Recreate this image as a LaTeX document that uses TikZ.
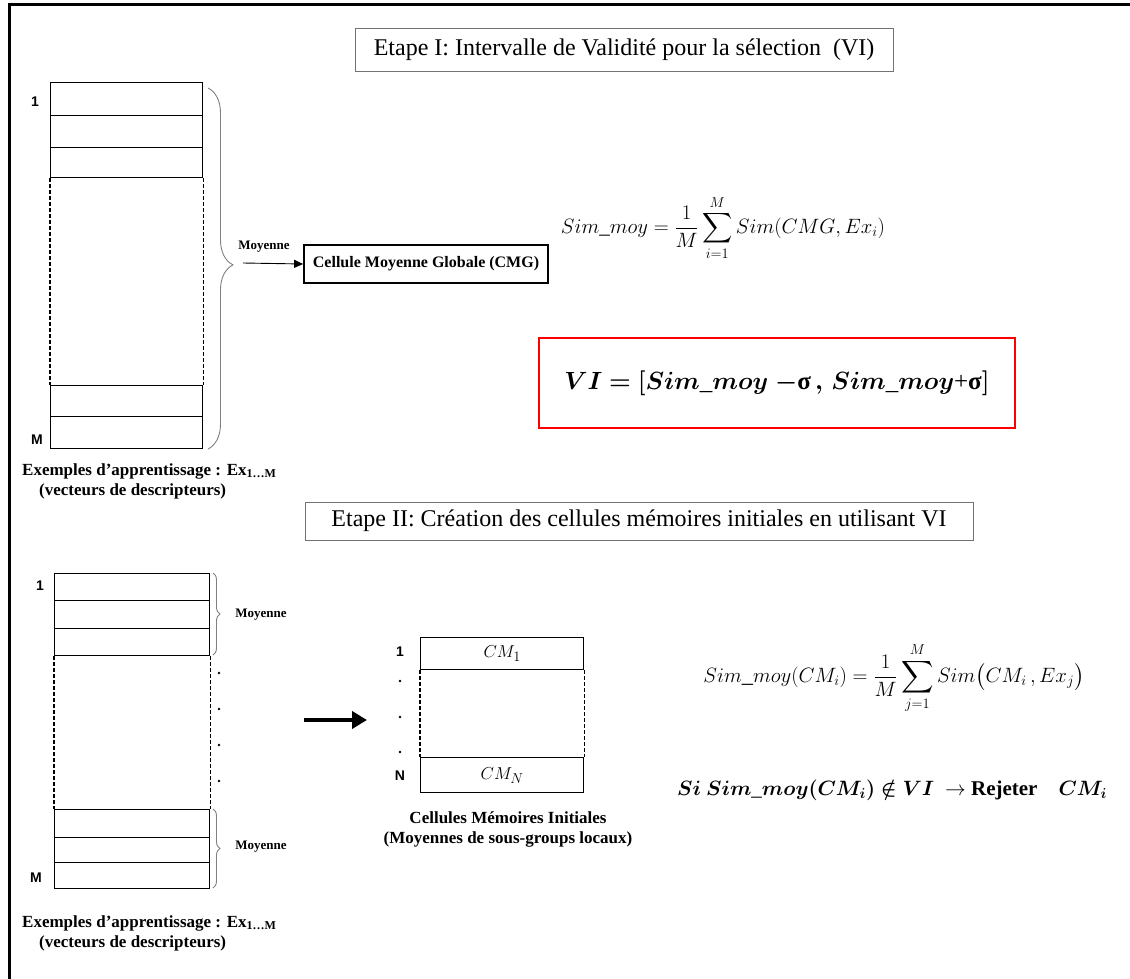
\documentclass[tikz,border=0pt]{standalone}
\usepackage{fontspec}
\usepackage{amsmath,amssymb,bm}
\setmainfont{Liberation Serif}
\newfontfamily\labelsans{Liberation Sans}
\usetikzlibrary{decorations.pathreplacing,arrows.meta}

\tikzset{
  frameline/.style={line width=3pt},
  titlebox/.style={draw=black!55, line width=0.9pt, inner sep=0pt,
    font=\fontsize{24}{28}\selectfont},
  cell/.style={draw, line width=1.4pt, inner sep=0pt, anchor=north west},
  dashedside/.style={dashed, line width=1.1pt, dash pattern=on 4pt off 2pt},
  rowlabel/.style={font=\labelsans\bfseries\fontsize{14}{16}\selectfont},
  excaption/.style={font=\bfseries\fontsize{17}{20}\selectfont, align=left,
    anchor=west, inner sep=0pt},
  caption/.style={font=\bfseries\fontsize{17}{20}\selectfont, align=center, inner sep=0pt},
  smallcap/.style={font=\bfseries\fontsize{13}{15}\selectfont},
  gbrace/.style={decorate, draw=black!50, line width=0.9pt},
  formula/.style={font=\fontsize{21}{25}\selectfont},
  dot/.style={fill=black}
}
\newcommand{\exsub}{Ex\textsubscript{\fontsize{12}{12}\selectfont 1…M}}

\begin{document}
\begin{tikzpicture}[x=1pt,y=-1pt]
\useasboundingbox (0,0) rectangle (1130,979);

% outer frame (top and left edges)
\draw[frameline] (9,979) -- (9,5) -- (1130,5);

% ---------------- Etape I ----------------
\node[titlebox, minimum width=538pt, minimum height=43pt] (titleI) at (624,49.5)
  {Etape I: Intervalle de Validité pour la sélection~~(VI)};

% stack of training examples
\node[cell, minimum width=152pt, minimum height=33pt] (a1) at (50,82) {};
\node[cell, minimum width=152pt, minimum height=32pt] (a2) at (50,115) {};
\node[cell, minimum width=152pt, minimum height=30pt] (a3) at (50,147) {};
\node[cell, minimum width=152pt, minimum height=31pt] (a4) at (50,385) {};
\node[cell, minimum width=152pt, minimum height=32pt] (a5) at (50,416) {};
\draw[dashedside] (a3.south west) -- (a4.north west);
\draw[dashedside] (a3.south east) -- (a4.north east);

\node[rowlabel] (a1lab) at (35,102) {1};
\node[rowlabel] (a5lab) at (37,440) {M};

\node[excaption] (capA) at (22,481)
  {Exemples d’apprentissage : \exsub\\\hspace*{17pt}(vecteurs de descripteurs)};

% brace and average cell
\draw[gbrace, decoration={brace, amplitude=25pt, aspect=0.49}] (208,88) -- (208,449);
\coordinate (tipA) at (243,263);
\node[draw, line width=1.8pt, minimum width=244pt, minimum height=38pt,
      font=\bfseries\fontsize{16}{19}\selectfont, inner sep=0pt] (cmg) at (426,264)
  {Cellule Moyenne Globale (CMG)};
\draw[line width=0.9pt, -{Triangle[length=9pt, width=8pt]}] (tipA) -- (cmg.west);
\node[smallcap] (moyA) at (264,247) {Moyenne};

% mean similarity
\node[formula] (eq1) at (723,228)
  {$\displaystyle Sim\_moy = \frac{1}{M}\sum_{i=1}^{M} Sim(CMG, Ex_i)$};

% validity interval
\node[draw=red, line width=2pt, minimum width=476pt, minimum height=90pt,
      font=\fontsize{25}{30}\selectfont] (vi) at (777,383)
  {$\bm{VI = [Sim\_moy}\;\bm{-}$\textbf{σ}$\,\bm{,\,Sim\_moy}$+\textbf{σ}$\bm{]}$};

% ---------------- Etape II ----------------
\node[titlebox, minimum width=668pt, minimum height=38pt] (titleII) at (639,521)
  {Etape II: Création des cellules mémoires initiales en utilisant VI};

\node[cell, minimum width=155pt, minimum height=27pt] (b1) at (54,573) {};
\node[cell, minimum width=155pt, minimum height=28pt] (b2) at (54,600) {};
\node[cell, minimum width=155pt, minimum height=27pt] (b3) at (54,628) {};
\node[cell, minimum width=155pt, minimum height=28pt] (b4) at (54,809) {};
\node[cell, minimum width=155pt, minimum height=25pt] (b5) at (54,837) {};
\node[cell, minimum width=155pt, minimum height=26pt] (b6) at (54,862) {};
\draw[dashedside] (b3.south west) -- (b4.north west);
\draw[dashedside] (b3.south east) -- (b4.north east);

\node[rowlabel] (b1lab) at (40,586) {1};
\node[rowlabel] (b6lab) at (36,878) {M};

\foreach \yy in {673,709,745,781} \fill[dot] (219,\yy) circle (1.3pt);

\draw[gbrace, decoration={brace, amplitude=7pt}] (213,573) -- (213,655);
\draw[gbrace, decoration={brace, amplitude=7pt}] (213,809) -- (213,888);
\node[smallcap] (moyB1) at (261,615) {Moyenne};
\node[smallcap] (moyB2) at (261,847) {Moyenne};

\node[excaption] (capB) at (22,933)
  {Exemples d’apprentissage : \exsub\\\hspace*{17pt}(vecteurs de descripteurs)};

% transition arrow
\coordinate (arrS) at (304,720);
\coordinate (arrE) at (367,720);
\draw[line width=4.5pt, -{Triangle[length=15pt, width=17pt]}] (arrS) -- (arrE);

% initial memory cells
\node[cell, minimum width=163pt, minimum height=32pt] (c1) at (420,637) {};
\node[cell, minimum width=163pt, minimum height=35pt] (cN) at (420,757) {};
\draw[dashedside] (c1.south west) -- (cN.north west);
\draw[dashedside] (c1.south east) -- (cN.north east);
\node[font=\fontsize{19}{22}\selectfont] (c1t) at (c1.center) {$CM_1$};
\node[font=\fontsize{19}{22}\selectfont] (cNt) at (cN.center) {$CM_N$};
\node[rowlabel] (c1lab) at (400,652) {1};
\node[rowlabel] (cNlab) at (400,776) {N};
\foreach \yy in {681,717,752} \fill[dot] (400,\yy) circle (1.3pt);

\node[caption] (capC) at (508,829)
  {Cellules Mémoires Initiales\\(Moyennes de sous-groups locaux)};

% similarity of a memory cell and rejection rule
\node[formula, font=\fontsize{22.5}{27}\selectfont] (eq2) at (894,678)
  {$\displaystyle Sim\_moy(CM_i) = \frac{1}{M}\sum_{j=1}^{M} Sim\bigl(CM_i\,, Ex_j\bigr)$};

\node[font=\fontsize{21}{25}\selectfont] (rule) at (892,790)
  {$\bm{Si\ Sim\_moy(CM_i) \notin VI}\ \rightarrow$ \textbf{Rejeter}\quad$\bm{CM_i}$};
\end{tikzpicture}
\end{document}
